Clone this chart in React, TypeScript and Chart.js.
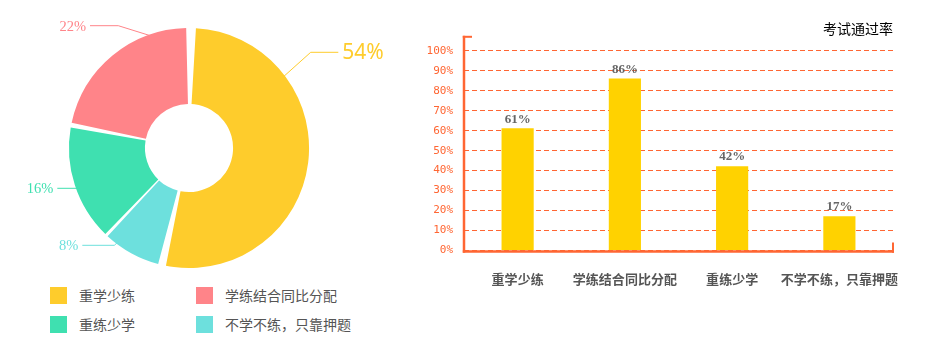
import React, { useEffect, useRef } from 'react';
import { Chart, registerables } from 'chart.js';

Chart.register(...registerables);

// ---------- data ----------
const pieLabels = ['重学少练', '不学不练，只靠押题', '重练少学', '学练结合同比分配'];
const pieValues = [54, 8, 16, 22];
const pieColors = ['#FECC2C', '#6DE0DD', '#3FE0B0', '#FF8489'];
const legendOrder = [0, 3, 2, 1];

const barLabels = ['重学少练', '学练结合同比分配', '重练少学', '不学不练，只靠押题'];
const barValues = [61, 86, 42, 17];
const barTitle = '考试通过率';
const yTickStep = 10;
const yMax = 100;

// ---------- styles / layout (not data) ----------
const CJK = '"Noto Sans CJK SC", "Noto Sans", sans-serif';
const ORANGE = '#FF6633';
const BAR_COLOR = '#FFD200';
const SMALL_PIE_FONT = '14.5px "Liberation Serif", serif';

// leader-line geometry relative to doughnut centre (angle in degrees, canvas convention)
const pieLabelLayout = [
  { angle: -37, elbow: [121.7, -95.7], endX: 149.3, font: '21px "Noto Sans", sans-serif', dy: 0.5 },
  { angle: 127, elbow: [-74.7, 97.3], endX: -106.7, font: SMALL_PIE_FONT, dy: 1.2 },
  { angle: 159.5, elbow: [-109, 40.3], endX: -131.7, font: SMALL_PIE_FONT, dy: 1 },
  { angle: -108, elbow: [-70.7, -122.3], endX: -99, font: SMALL_PIE_FONT, dy: 1.5 },
];

const pieLabelPlugin = {
  id: 'pieLabelPlugin',
  afterDatasetsDraw(chart: any) {
    const ctx = chart.ctx;
    const meta = chart.getDatasetMeta(0);
    meta.data.forEach((arc: any, i: number) => {
      const { x, y, outerRadius } = arc.getProps(['x', 'y', 'outerRadius'], true);
      const L = pieLabelLayout[i];
      const a = (L.angle * Math.PI) / 180;
      const sx = x + Math.cos(a) * outerRadius;
      const sy = y + Math.sin(a) * outerRadius;
      const ex = x + L.elbow[0];
      const ey = y + L.elbow[1];
      const tx = x + L.endX;
      ctx.save();
      ctx.strokeStyle = pieColors[i];
      ctx.lineWidth = 1;
      ctx.beginPath();
      ctx.moveTo(sx, sy);
      ctx.lineTo(ex, ey);
      ctx.lineTo(tx, ey);
      ctx.stroke();
      ctx.fillStyle = pieColors[i];
      ctx.font = L.font;
      ctx.textBaseline = 'middle';
      const leftSide = L.endX < 0;
      ctx.textAlign = leftSide ? 'right' : 'left';
      ctx.fillText(`${pieValues[i]}%`, tx + (leftSide ? -4 : 4), ey + L.dy);
      ctx.restore();
    });
  },
};

const barValuePlugin = {
  id: 'barValuePlugin',
  afterDatasetsDraw(chart: any) {
    const ctx = chart.ctx;
    const meta = chart.getDatasetMeta(0);
    ctx.save();
    ctx.fillStyle = '#666';
    ctx.font = 'bold 13px "Liberation Serif", serif';
    ctx.textAlign = 'center';
    ctx.textBaseline = 'middle';
    meta.data.forEach((bar: any, i: number) => {
      ctx.fillText(`${barValues[i]}%`, bar.x, bar.y - 9.5);
    });
    ctx.restore();
  },
};

const axisLinePlugin = {
  id: 'axisLinePlugin',
  afterDraw(chart: any) {
    const ctx = chart.ctx;
    const { left, right, top, bottom } = chart.chartArea;
    const topEnd = top - 15;
    ctx.save();
    ctx.strokeStyle = ORANGE;
    ctx.lineCap = 'butt';
    ctx.lineWidth = 2.5;
    ctx.beginPath();
    ctx.moveTo(left, topEnd);
    ctx.lineTo(left, bottom + 2.2);
    ctx.stroke();
    ctx.lineWidth = 2;
    ctx.beginPath();
    ctx.moveTo(left - 1.2, topEnd + 1);
    ctx.lineTo(left + 8, topEnd + 1);
    ctx.stroke();
    ctx.lineWidth = 2.5;
    ctx.beginPath();
    ctx.moveTo(left - 1.2, bottom + 1);
    ctx.lineTo(right + 1, bottom + 1);
    ctx.stroke();
    ctx.lineWidth = 2;
    ctx.beginPath();
    ctx.moveTo(right, bottom + 2.2);
    ctx.lineTo(right, bottom - 8);
    ctx.stroke();
    ctx.restore();
  },
};

function DoughnutChart() {
  const ref = useRef<HTMLCanvasElement | null>(null);
  useEffect(() => {
    if (!ref.current) return;
    const chart = new Chart(ref.current, {
      type: 'doughnut',
      data: {
        labels: pieLabels,
        datasets: [
          {
            data: pieValues,
            backgroundColor: pieColors,
            borderWidth: 0,
            spacing: 5.5,
            radius: 117.3,
            cutout: 41.3,
          } as any,
        ],
      },
      options: {
        responsive: false,
        animation: false,
        events: [],
        layout: { padding: { left: 10, right: 52, top: 28, bottom: 12 } },
        plugins: { legend: { display: false }, tooltip: { enabled: false } },
      } as any,
      plugins: [pieLabelPlugin],
    });
    return () => chart.destroy();
  }, []);
  return <canvas ref={ref} width={420} height={280} style={{ display: 'block', width: 420, height: 280 }} />;
}

function BarChart() {
  const ref = useRef<HTMLCanvasElement | null>(null);
  useEffect(() => {
    if (!ref.current) return;
    const chart = new Chart(ref.current, {
      type: 'bar',
      data: {
        labels: barLabels,
        datasets: [
          {
            data: barValues,
            backgroundColor: BAR_COLOR,
            borderWidth: 0,
            barThickness: 31.5,
          },
        ],
      },
      options: {
        responsive: false,
        animation: false,
        events: [],
        layout: { padding: { left: 0, right: 56, top: 0, bottom: 13 } },
        plugins: {
          legend: { display: false },
          tooltip: { enabled: false },
          title: {
            display: true,
            text: barTitle,
            align: 'end',
            color: '#000',
            font: { family: CJK, size: 14, weight: 'normal', lineHeight: 1.2 },
            padding: { top: 20, bottom: 14 },
          },
        },
        scales: {
          x: {
            afterFit: (s: any) => {
              s.height = 36.5;
            },
            grid: { display: false, drawTicks: false },
            border: { display: false },
            ticks: {
              padding: 21,
              color: '#555',
              font: { family: CJK, size: 13, weight: 'bold' },
              maxRotation: 0,
              minRotation: 0,
              autoSkip: false,
            },
          },
          y: {
            min: 0,
            max: yMax,
            afterFit: (s: any) => {
              s.width = 54;
            },
            grid: { color: ORANGE, lineWidth: 1, drawTicks: false },
            border: { display: false, dash: [5, 3] },
            ticks: {
              stepSize: yTickStep,
              padding: 11,
              color: ORANGE,
              font: { family: '"DejaVu Sans Mono", monospace', size: 11 },
              callback: (v: any) => `${v}%`,
            },
          },
        },
      } as any,
      plugins: [barValuePlugin, axisLinePlugin],
    });
    return () => chart.destroy();
  }, []);
  return <canvas ref={ref} width={539} height={300} style={{ display: 'block', width: 539, height: 300 }} />;
}

function Legend() {
  const positions = [
    { left: 50, top: 287 },
    { left: 196, top: 287 },
    { left: 50, top: 316 },
    { left: 196, top: 316 },
  ];
  return (
    <>
      {legendOrder.map((idx, k) => (
        <div
          key={k}
          style={{
            position: 'absolute',
            left: positions[k].left,
            top: positions[k].top,
            height: 17,
            display: 'flex',
            alignItems: 'center',
            whiteSpace: 'nowrap',
          }}
        >
          <span style={{ width: 17, height: 17, background: pieColors[idx], display: 'inline-block' }} />
          <span
            style={{
              marginLeft: 12,
              fontFamily: CJK,
              fontSize: 14,
              color: '#555',
              lineHeight: '17px',
            }}
          >
            {pieLabels[idx]}
          </span>
        </div>
      ))}
    </>
  );
}

export default function App() {
  return (
    <div style={{ position: 'absolute', left: 0, top: 0, width: 949, height: 353, background: '#fff', overflow: 'hidden' }}>
      <div style={{ position: 'absolute', left: 0, top: 0 }}>
        <DoughnutChart />
      </div>
      <Legend />
      <div style={{ position: 'absolute', left: 410, top: 0 }}>
        <BarChart />
      </div>
    </div>
  );
}
